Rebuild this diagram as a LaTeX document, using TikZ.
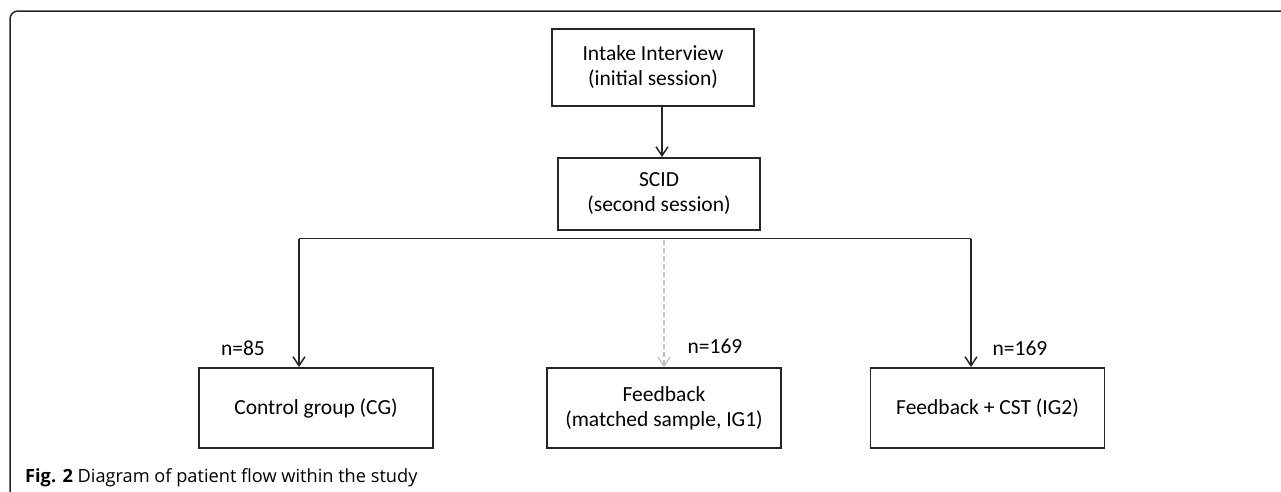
\documentclass[tikz,border=0pt]{standalone}
\usepackage{fontspec}
\setmainfont{Carlito}
\newfontfamily\capfont{Open Sans}
\usetikzlibrary{arrows.meta}
\begin{document}
\begin{tikzpicture}[x=1pt,y=-1pt,
  box/.style={draw=black!85,line width=1.9pt,minimum height=0pt,inner sep=0pt,font=\fontsize{21.5}{25}\selectfont,align=center},
  conn/.style={draw=black!85,line width=1.8pt,-{Straight Barb[length=9pt,width=12pt,line width=1.5pt]}},
  dconn/.style={draw=black!25,line width=1.3pt,dashed,dash pattern=on 5pt off 3pt,-{Straight Barb[length=9pt,width=12pt,line width=1.2pt]}},
  lbl/.style={font=\fontsize{21.5}{25}\selectfont,inner sep=0pt}]
\useasboundingbox (0,0) rectangle (1281,491);
\draw[line width=1.5pt,black!85,rounded corners=8pt] (10,492) -- (10,11) -- (1282,11);
\node[box,minimum width=202pt,minimum height=77pt] (intake) at (653,67.5) {Intake Interview\\(initial session)};
\node[box,minimum width=202pt,minimum height=72pt] (scid) at (659,194) {SCID\\(second session)};
\node[box,minimum width=234pt,minimum height=80pt] (cg) at (316,408) {Control group (CG)};
\node[box,minimum width=234pt,minimum height=80pt] (ig1) at (664,408) {Feedback\\(matched sample, IG1)};
\node[box,minimum width=234pt,minimum height=80pt] (ig2) at (987.5,408) {Feedback + CST (IG2)};
\coordinate (l) at (299,238.5);
\coordinate (r) at (971,238.5);
\draw[conn] (intake.south -| 662,0) -- (scid.north -| 662,0);
\draw[line width=1.8pt,black!85] (l) -- (r);
\draw[conn] (l) -- (l |- cg.north);
\draw[conn] (r) -- (r |- ig2.north);
\draw[dconn] (664,240) coordinate (d) -- (d |- ig1.north);
\node[lbl] (n1) at (243,348) {n=85};
\node[lbl] (n2) at (715,346) {n=169};
\node[lbl] (n3) at (1020,348) {n=169};
\node[anchor=base west,inner sep=0pt,font=\capfont\fontsize{18.2}{20}\selectfont] (cap) at (25,482) {\textbf{Fig. 2} Diagram of patient flow within the study};
\end{tikzpicture}
\end{document}
